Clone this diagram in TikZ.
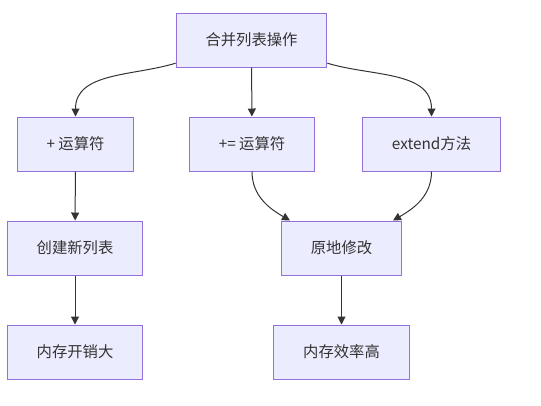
\documentclass[tikz,border=0pt]{standalone}
\usepackage{fontspec}
\setmainfont{Noto Sans CJK SC}
\usepackage{xcolor}
\usetikzlibrary{arrows.meta}

\definecolor{boxfill}{HTML}{ECECFF}
\definecolor{boxline}{HTML}{9370DB}
\definecolor{lineink}{HTML}{333333}

\tikzset{
	stepbox/.style={draw=boxline, fill=boxfill, line width=0.75pt, text=lineink,
		font=\fontsize{11.5pt}{14pt}\selectfont, inner xsep=22pt,
		minimum height=40.5pt, anchor=center},
	arr/.style={draw=lineink, line width=0.75pt, -{Triangle[length=6pt,width=6pt]}}
}

\begin{document}
\begin{tikzpicture}[x=0.75pt,y=-0.75pt]
	\useasboundingbox (0,0) rectangle (541,405);

	\node[stepbox] (merge) at (251.5,40) {合并列表操作};

	\node[stepbox] (plus) at (75.5,144) {+ 运算符};
	\node[stepbox] (pluseq) at (252,144) {+= 运算符};
	\node[stepbox] (extend) at (431.5,144) {extend方法};

	\node[stepbox] (newlist) at (75,248) {创建新列表};
	\node[stepbox] (inplace) at (341.5,248) {原地修改};

	\node[stepbox] (memhigh) at (75,352) {内存开销大};
	\node[stepbox] (memlow) at (341.5,352) {内存效率高};

	\draw[arr] (merge) to[out=197,in=90] (plus.north);
	\draw[arr] (merge) -- (pluseq);
	\draw[arr] (merge) to[out=-17,in=90] (extend.north);

	\draw[arr] (plus) -- (newlist);
	\draw[arr] (newlist) -- (memhigh);

	\draw[arr] (pluseq.south) to[out=-90,in=150] ([xshift=6.75pt]inplace.north west);
	\draw[arr] (extend.south) to[out=-90,in=30] ([xshift=-6.75pt]inplace.north east);
	\draw[arr] (inplace) -- (memlow);
\end{tikzpicture}
\end{document}
